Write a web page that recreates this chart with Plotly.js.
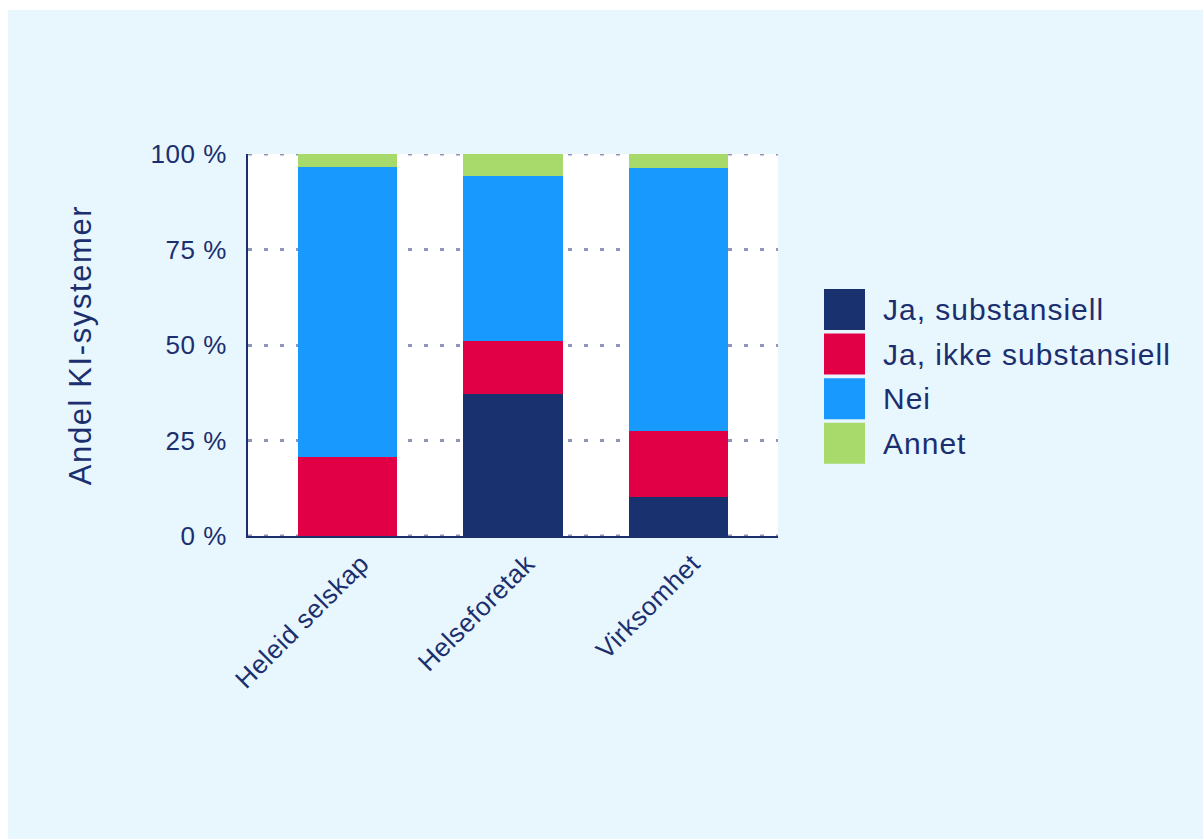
<!DOCTYPE html>
<html>
<head>
<meta charset="utf-8">
<script src="https://cdn.plot.ly/plotly-3.0.1.min.js"></script>
<style>
  html, body { margin: 0; padding: 0; background: #ffffff; width: 1203px; height: 839px; overflow: hidden; }
  #chart { position: absolute; left: 8px; top: 10px; width: 1195px; height: 829px; }
  .annotation-text { letter-spacing: 1px; }
  .ytitle { letter-spacing: 1.6px; }
  .xtick text, .ytick text { letter-spacing: 0.5px; }
</style>
</head>
<body>
<div id="chart"></div>
<script>
// Data
const categories = ["Heleid selskap", "Helseforetak", "Virksomhet"];
const seriesNames = ["Ja, substansiell", "Ja, ikke substansiell", "Nei", "Annet"];
const jaSubstansiell = [0, 37.2, 10.2];
const jaIkkeSubstansiell = [20.7, 13.9, 17.3];
const nei = [75.9, 43.1, 68.8];
const annet = [3.4, 5.8, 3.7];
const yTickVals = [0, 25, 50, 75, 100];
const yTickText = ["0 %", "25 %", "50 %", "75 %", "100 %"];

const seriesValues = [jaSubstansiell, jaIkkeSubstansiell, nei, annet];
const colors = ["#1A3170", "#E10046", "#1899FE", "#A8D96B"];
const textColor = "#1B2F6E";
const gridColor = "#8F97B8";
const font = "Liberation Sans, Arial, sans-serif";

const traces = seriesNames.map((name, i) => ({
  type: "bar",
  name: name,
  x: categories,
  y: seriesValues[i],
  width: 0.6,
  marker: { color: colors[i], line: { width: 0 } },
  showlegend: false,
  hoverinfo: "x+y+name"
}));

const W = 1195, H = 829;
const margin = { l: 240, r: 425, t: 144, b: 303, pad: 0 };
const plotW = W - margin.l - margin.r;
const plotH = H - margin.t - margin.b;
const px2x = px => (px - margin.l) / plotW;
const px2y = py => 1 - (py - margin.t) / plotH;

const shapes = [];
const annotations = [];

// Edge gridlines (0 % and 100 %), which Plotly omits at the range ends
[yTickVals[0], yTickVals[yTickVals.length - 1]].forEach(v => {
  shapes.push({
    type: "line", xref: "paper", yref: "y", layer: "below",
    x0: 0, x1: 1, y0: v, y1: v,
    line: { color: gridColor, width: 3, dash: "4px,12px" }
  });
});

// Custom legend with large square swatches
const legTop = 279, legPitch = 44.6, sq = 41, legX = 816, textX = 873;
seriesNames.forEach((name, i) => {
  const y0 = legTop + i * legPitch;
  shapes.push({
    type: "rect", xref: "paper", yref: "paper",
    x0: px2x(legX), x1: px2x(legX + sq),
    y0: px2y(y0 + sq), y1: px2y(y0),
    fillcolor: colors[i], line: { width: 0 }
  });
  annotations.push({
    xref: "paper", yref: "paper",
    x: px2x(textX), y: px2y(y0 + sq / 2),
    xanchor: "left", yanchor: "middle",
    text: name, showarrow: false,
    font: { family: font, size: 30, color: textColor }
  });
});

const layout = {
  width: W, height: H,
  margin: margin,
  paper_bgcolor: "#E8F6FE",
  plot_bgcolor: "#FFFFFF",
  barmode: "stack",
  bargap: 0,
  showlegend: false,
  font: { family: font, color: textColor },
  xaxis: {
    type: "category",
    range: [-0.6, 2.6],
    tickangle: -45,
    ticklabelshift: 14,
    tickfont: { family: font, size: 26, color: textColor },
    showline: true, linecolor: textColor, linewidth: 2,
    showgrid: false, zeroline: false,
    ticks: "", fixedrange: true
  },
  yaxis: {
    range: [0, 100],
    tickvals: yTickVals,
    ticktext: yTickText,
    tickfont: { family: font, size: 26, color: textColor },
    ticks: "",
    ticklabelstandoff: 14,
    showline: true, linecolor: textColor, linewidth: 2,
    showgrid: true, gridcolor: gridColor, gridwidth: 3, griddash: "4px,12px",
    zeroline: false,
    title: { text: "Andel KI-systemer", font: { family: font, size: 31, color: textColor }, standoff: 50 },
    fixedrange: true
  },
  shapes: shapes,
  annotations: annotations
};

Plotly.newPlot("chart", traces, layout, { displayModeBar: false, staticPlot: true });
</script>
</body>
</html>
